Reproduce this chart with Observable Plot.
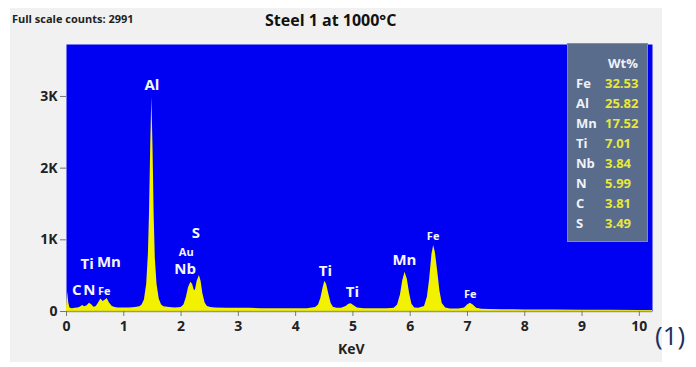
<!DOCTYPE html>
<html>
<head>
<meta charset="utf-8">
<script src="https://cdn.jsdelivr.net/npm/d3@7"></script>
<script src="https://cdn.jsdelivr.net/npm/@observablehq/plot@0.6"></script>
<style>
  html, body { margin: 0; padding: 0; background: #ffffff; }
  #wrap { position: relative; width: 696px; height: 367px; overflow: hidden;
          font-family: "Liberation Sans Narrow", "Open Sans", "DejaVu Sans", sans-serif; }
  #panel { position: absolute; left: 10px; top: 8px; width: 652px; height: 354px; background: #f1f1f1; }
  #chart { position: absolute; left: 0; top: 0; }
  .abs { position: absolute; white-space: nowrap; }
  #legend { position: absolute; left: 567px; top: 43px; width: 81px; height: 199px;
            background: #5a6c8c; border: 1px solid #7d8db0; box-sizing: border-box; }
  #legend .row { position: absolute; font-weight: bold; font-size: 13px; line-height: 20px; }
</style>
</head>
<body>
<div id="wrap">
  <div id="panel"></div>
  <div id="chart"></div>
  <div class="abs" id="fs" style="left:12px; top:11px; font-size:11px; font-weight:bold; color:#222;"></div>
  <div class="abs" id="title" style="left:265px; top:9px; font-size:16px; font-weight:bold; color:#111;"></div>
  <div class="abs" id="xlab" style="left:338px; top:339px; font-size:14px; font-weight:bold; color:#222;"></div>
  <div class="abs" id="fig" style="left:655px; top:317px; font-size:26px; color:#1c2f5c; font-family:'Open Sans', sans-serif;"></div>
  <div id="legend"></div>
</div>
<script>
// ---- texts ----
const fullScaleText = "Full scale counts: 2991";
const titleText = "Steel 1 at 1000\u00B0C";
const xAxisLabel = "KeV";
const figureTag = "(1)";

// ---- spectrum ----
const energy = [0.00,0.02,0.04,0.06,0.10,0.15,0.20,0.24,0.28,0.32,0.36,0.40,0.44,0.48,0.52,0.56,0.60,0.64,0.68,0.71,0.75,0.80,0.85,0.90,1.00,1.10,1.20,1.28,1.32,1.36,1.40,1.43,1.45,1.47,1.49,1.51,1.53,1.55,1.58,1.62,1.66,1.70,1.80,1.90,2.00,2.05,2.09,2.13,2.17,2.20,2.23,2.25,2.28,2.32,2.35,2.38,2.42,2.46,2.52,2.60,2.80,3.00,3.20,3.40,3.60,3.80,4.00,4.20,4.35,4.40,4.44,4.48,4.51,4.54,4.58,4.62,4.66,4.72,4.80,4.88,4.93,4.97,5.02,5.08,5.20,5.40,5.60,5.72,5.78,5.83,5.87,5.91,5.95,5.99,6.03,6.08,6.15,6.25,6.30,6.34,6.38,6.41,6.44,6.48,6.52,6.56,6.62,6.70,6.85,6.95,7.00,7.05,7.10,7.16,7.25,7.40,7.60,7.80,8.00,8.50,9.00,9.50,10.00,10.23];
const counts = [40,270,120,50,40,45,50,60,85,65,80,115,95,60,70,120,175,140,160,180,120,70,55,50,50,50,55,65,90,160,380,800,1400,2300,2991,2300,1350,750,380,170,90,65,55,50,55,90,190,330,409,380,300,293,420,502,420,250,120,70,55,50,45,45,45,40,40,40,40,40,55,90,180,330,423,380,240,110,60,45,45,70,100,107,80,50,40,38,38,45,90,230,430,548,450,250,100,50,45,70,200,450,800,920,820,560,280,110,50,35,35,50,90,116,90,45,30,28,25,25,22,20,18,18,15,15];

// ---- axes ----
const xTicks = [0,1,2,3,4,5,6,7,8,9,10];
const yTicks = [0,1000,2000,3000];
const yTickLabels = ["0","1K","2K","3K"];

// ---- peak labels ----
const peakNames  = ["Al","S","Au","Nb","Ti","Mn","C","N","Fe","Ti","Ti","Mn","Fe","Fe"];
const peakEnergy = [1.49,2.26,2.09,2.07,0.36,0.74,0.18,0.40,0.66,4.52,4.99,5.90,6.40,7.05];
const peakLabelY = [3160,1090,830,590,660,690,300,300,285,560,270,715,1040,240];
const peakBig    = [true,true,false,true,true,true,true,true,false,true,true,true,false,false];

// ---- composition table ----
const wtElements = ["Fe","Al","Mn","Ti","Nb","N","C","S"];
const wtValues   = ["32.53","25.82","17.52","7.01","3.84","5.99","3.81","3.49"];
const wtHeader = "Wt%";

const spectrum = energy.map((e, i) => ({e, c: counts[i]}));
const labels = peakNames.map((n, i) => ({n, e: peakEnergy[i], y: peakLabelY[i], big: peakBig[i]}));

const font = "'Liberation Sans Narrow', 'Open Sans', 'DejaVu Sans', sans-serif";

const chart = Plot.plot({
  width: 696, height: 367,
  marginLeft: 66, marginRight: 44, marginTop: 44, marginBottom: 56,
  style: {background: "transparent", fontFamily: font, overflow: "visible"},
  x: {domain: [0, 10.23]},
  y: {domain: [0, 3725]},
  marks: [
    Plot.frame({fill: "#0000f2", stroke: null}),
    Plot.areaY(spectrum, {x: "e", y: "c", fill: "#f2f200", curve: "linear"}),
    Plot.ruleY([0], {stroke: "#9a9a7a", strokeWidth: 1.5}),
    Plot.axisX({ticks: xTicks, tickFormat: d => String(d), tickSize: 5, tickPadding: 5,
      fontSize: 14, fontWeight: "bold", fill: "#222", stroke: "#777", label: null}),
    Plot.axisY({ticks: yTicks, tickFormat: (d, i) => yTickLabels[yTicks.indexOf(d)], tickSize: 6, tickPadding: 3,
      fontSize: 14, fontWeight: "bold", fill: "#222", stroke: "#777", label: null}),
    Plot.text(labels.filter(d => d.big), {x: "e", y: "y", text: "n", fill: "#f4f6ff",
      fontSize: 15, fontWeight: "bold", textAnchor: "middle"}),
    Plot.text(labels.filter(d => !d.big), {x: "e", y: "y", text: "n", fill: "#f4f6ff",
      fontSize: 11, fontWeight: "bold", textAnchor: "middle"})
  ]
});
document.getElementById("chart").appendChild(chart);

document.getElementById("fs").textContent = fullScaleText;
document.getElementById("title").textContent = titleText;
document.getElementById("xlab").textContent = xAxisLabel;
document.getElementById("fig").textContent = figureTag;

const legend = document.getElementById("legend");
const hdr = document.createElement("div");
hdr.className = "row";
hdr.style.left = "40px"; hdr.style.top = "9px"; hdr.style.color = "#eef2fa";
hdr.textContent = wtHeader;
legend.appendChild(hdr);
wtElements.forEach((el, i) => {
  const a = document.createElement("div");
  a.className = "row";
  a.style.left = "8px"; a.style.top = (29 + i * 20) + "px"; a.style.color = "#eef2fa";
  a.textContent = el;
  legend.appendChild(a);
  const b = document.createElement("div");
  b.className = "row";
  b.style.left = "37px"; b.style.top = (29 + i * 20) + "px"; b.style.color = "#e8e83a";
  b.textContent = wtValues[i];
  legend.appendChild(b);
});
</script>
</body>
</html>
